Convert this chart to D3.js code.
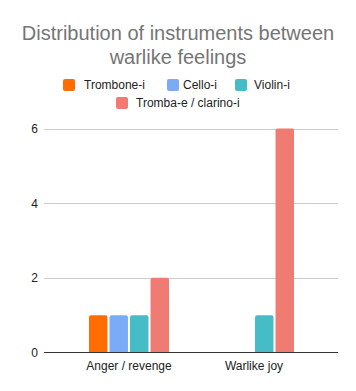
<!DOCTYPE html>
<html><head><meta charset="utf-8">
<script src="https://cdn.jsdelivr.net/npm/d3@7"></script>
<style>body{margin:0;background:#fff;}svg{display:block;font-family:Arial,"Liberation Sans",sans-serif;}</style>
</head><body>
<svg id="c" width="356" height="391"></svg>
<script>
const categories = ["Anger / revenge", "Warlike joy"];
const seriesNames = ["Trombone-i", "Cello-i", "Violin-i", "Tromba-e / clarino-i"];
const trombone = [1, 0];
const cello = [1, 0];
const violin = [1, 1];
const tromba = [2, 6];
const colors = ["#ff6d01", "#7baaf7", "#46bdc6", "#f07b72"];
const yTicks = [0, 2, 4, 6];
const titleLines = ["Distribution of instruments between", "warlike feelings"];

const seriesValues = [trombone, cello, violin, tromba];
const svg = d3.select("#c");

// title
svg.append("text").attr("x", 178).attr("y", 0).attr("text-anchor", "middle")
  .attr("fill", "#757575").style("font-size", "20px")
  .selectAll("tspan").data(titleLines).join("tspan")
  .attr("x", 178).attr("y", (d, i) => 40 + i * 24).text(d => d);

// legend
const legendRows = [
  [{i: 0, sx: 63, tx: 84}, {i: 1, sx: 167, tx: 183}, {i: 2, sx: 235, tx: 254}],
  [{i: 3, sx: 116, tx: 136}]
];
const rowY = [89, 107];
legendRows.forEach((row, r) => {
  row.forEach(it => {
    svg.append("rect").attr("x", it.sx).attr("y", rowY[r] - 10).attr("width", 12).attr("height", 12)
      .attr("rx", 2).attr("fill", colors[it.i]);
    svg.append("text").attr("x", it.tx).attr("y", rowY[r]).attr("fill", "#222")
      .style("font-size", "12px").text(seriesNames[it.i]);
  });
});

// scales
const y = d3.scaleLinear().domain([0, 6]).range([352.5, 128.5]);
const x0 = d3.scaleBand().domain(categories).range([66.5, 316.5]);
const x1 = d3.scaleBand().domain(d3.range(seriesNames.length)).range([x0.bandwidth()/2 - 40, x0.bandwidth()/2 + 40]).paddingInner(0.1);

// grid
const yAxis = d3.axisLeft(y).tickValues(yTicks).tickFormat(d3.format("d")).tickSize(0).tickPadding(6);
const ga = svg.append("g").attr("transform", "translate(44,0)").call(yAxis);
ga.select(".domain").remove();
ga.selectAll("text").attr("fill", "#222").style("font-size", "12px").attr("font-family", null);
svg.append("g").selectAll("line").data(yTicks.filter(d => d > 0)).join("line")
  .attr("x1", 44).attr("x2", 338).attr("y1", d => Math.round(y(d)) + 0.5).attr("y2", d => Math.round(y(d)) + 0.5)
  .attr("stroke", "#cccccc").attr("stroke-width", 1);

// bars
const groups = svg.append("g").selectAll("g").data(categories).join("g")
  .attr("transform", c => `translate(${x0(c)},0)`);
groups.selectAll("path").data((c, ci) => seriesValues.map((vals, si) => ({si, v: vals[ci]})).filter(d => d.v > 0))
  .join("path")
  .attr("fill", d => colors[d.si])
  .attr("d", d => {
    const x = x1(d.si), w = x1.bandwidth(), top = y(d.v), bot = y(0), r = 2;
    return `M${x},${bot}V${top + r}Q${x},${top} ${x + r},${top}H${x + w - r}Q${x + w},${top} ${x + w},${top + r}V${bot}Z`;
  });

// baseline
svg.append("line").attr("x1", 44).attr("x2", 338).attr("y1", 352.5).attr("y2", 352.5)
  .attr("stroke", "#333").attr("stroke-width", 1);

// x axis labels
const xAxis = d3.axisBottom(x0).tickSize(0).tickPadding(8);
const gx = svg.append("g").attr("transform", "translate(0,353)").call(xAxis);
gx.select(".domain").remove();
gx.selectAll("text").attr("fill", "#222").style("font-size", "12px").attr("font-family", null);
</script>
</body></html>
